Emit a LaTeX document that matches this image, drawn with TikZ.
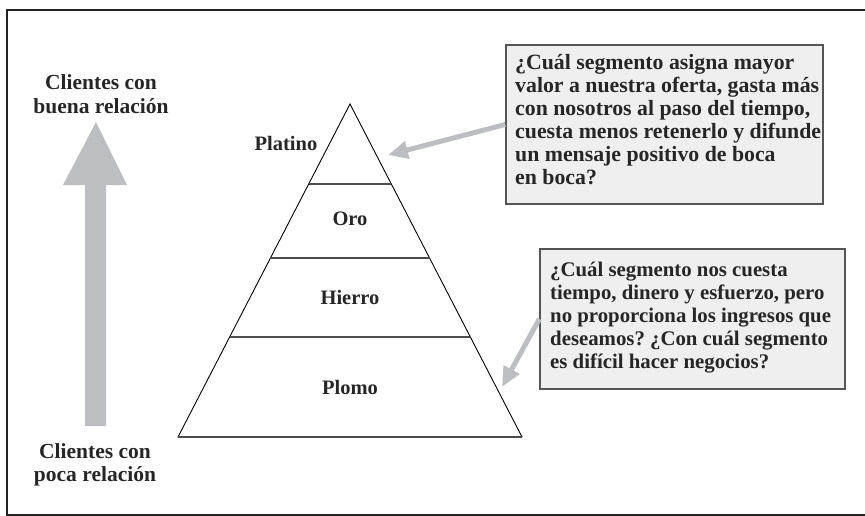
\documentclass[tikz,border=0pt]{standalone}
\usepackage{fontspec}
\setmainfont{Liberation Serif}
\frenchspacing
\usetikzlibrary{arrows.meta,calc}
\definecolor{arrowgray}{HTML}{BDBEC1}
\definecolor{boxfill}{HTML}{EEEFEE}
\definecolor{boxline}{HTML}{555555}
\definecolor{framecol}{HTML}{222222}
\begin{document}
\begin{tikzpicture}[x=1pt,y=-1pt,
  lbl/.style={font=\fontsize{20.5}{23}\selectfont\bfseries, text=black!85, align=center, inner sep=0pt},
  sidelbl/.style={lbl, font=\fontsize{21.5}{23.5}\selectfont\bfseries},
  qbox/.style={draw=boxline, line width=1.3pt, fill=boxfill, inner sep=0pt},
  qtext/.style={anchor=north west, inner sep=0pt, align=left, text=black!85},
  pointer/.style={draw=arrowgray, line width=5pt, -{Triangle[length=20pt,width=17pt]}},
  tri/.style={draw=black, line width=0.9pt, line join=miter},
  seg/.style={draw=black!70, line width=1.4pt}]
\useasboundingbox (0,0) rectangle (865,516);
% frame
\draw[framecol, line width=2pt] (865,10) -- (7,10) -- (7,515) -- (865,515);
% big gray arrow
\fill[arrowgray] (85,426) -- (85,185) -- (63,185) -- (96,122) -- (127,185) -- (106,185) -- (106,426) -- cycle;
\node[sidelbl] (good) at (101,94) {Clientes con\\buena relación};
\node[sidelbl] (poor) at (95,465) {Clientes con\\poca relación};
% pyramid
\coordinate (apex) at (350,104);
\coordinate (bl) at (178,437);
\coordinate (br) at (522,437);
\draw[tri] (apex) -- (bl) -- (br) -- cycle;
\draw[seg] ($(apex)!0.2402!(bl)$) -- ($(apex)!0.2402!(br)$);
\draw[seg] ($(apex)!0.4625!(bl)$) -- ($(apex)!0.4625!(br)$);
\draw[seg] ($(apex)!0.6997!(bl)$) -- ($(apex)!0.6997!(br)$);
\draw[seg] (bl) -- (br);
\node[lbl] (platino) at (286,143) {Platino};
\node[lbl] (oro) at (350,219) {Oro};
\node[lbl] (hierro) at (350,297) {Hierro};
\node[lbl] (plomo) at (350,387) {Plomo};
% question boxes
\node[qbox, minimum width=317pt, minimum height=159pt] (qtop) at (664.5,124.5) {};
\node[qtext, font=\fontsize{21.8}{23.1}\selectfont\bfseries] (qtoptext) at (515,54)
  {¿Cuál segmento asigna mayor\\valor a nuestra oferta, gasta más\\con nosotros al paso del tiempo,\\cuesta menos retenerlo y difunde\\un mensaje positivo de boca\\en boca?};
\node[qbox, minimum width=305pt, minimum height=140pt] (qbot) at (692.5,319) {};
\node[qtext, font=\fontsize{20.8}{23}\selectfont\bfseries] (qbottext) at (550,262)
  {¿Cuál segmento nos cuesta\\tiempo, dinero y esfuerzo, pero\\no proporciona los ingresos que\\deseamos? ¿Con cuál segmento\\es difícil hacer negocios?};
% pointers
\coordinate (tiptop) at (388,155);
\coordinate (tipbot) at (502,387);
\draw[pointer] (qtop.west) -- (tiptop);
\draw[pointer] (qbot.west) -- (tipbot);
\end{tikzpicture}
\end{document}
